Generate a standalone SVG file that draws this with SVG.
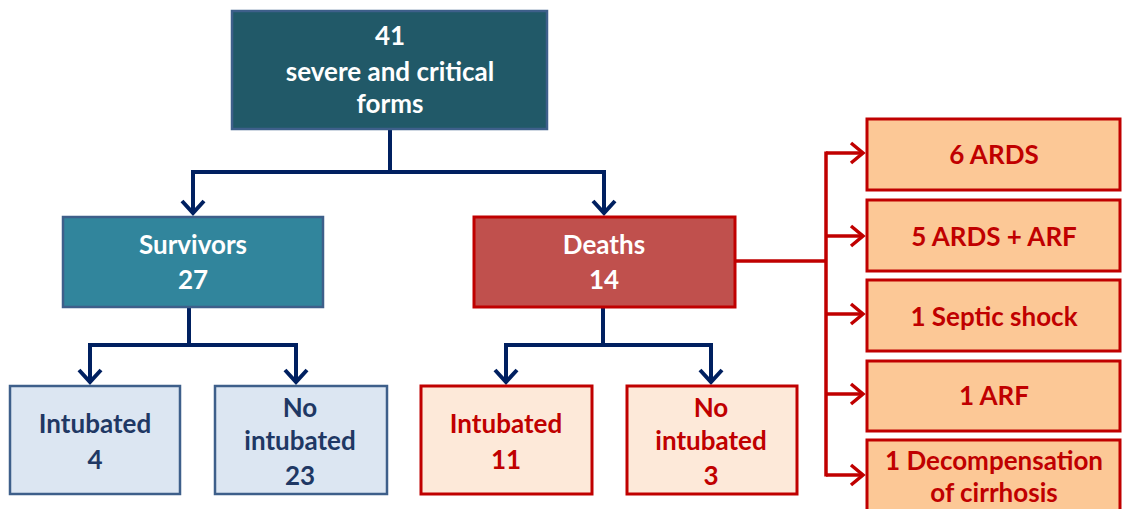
<svg xmlns="http://www.w3.org/2000/svg" width="1122" height="509" viewBox="0 0 1122 509">
<style>
text{font-family:Lato,"Open Sans","Liberation Sans",sans-serif;font-weight:bold;font-size:26px;text-anchor:middle}
.w{fill:#ffffff}
.n{fill:#1F3864}
.r{fill:#C00000}
.nav{fill:none;stroke:#002060;stroke-width:4}
.red{fill:none;stroke:#C00000;stroke-width:3.5}
.top{fill:#215968;stroke:#3E5F8A;stroke-width:2.5}
.surv{fill:#31859C;stroke:#3E5F8A;stroke-width:2.5}
.lb{fill:#DCE6F2;stroke:#3E5F8A;stroke-width:2.5}
.dth{fill:#C0504D;stroke:#C00000;stroke-width:3}
.lr{fill:#FDE9D9;stroke:#C00000;stroke-width:3}
.or{fill:#FCC896;stroke:#C00000;stroke-width:3}
</style>
<defs>
<marker id="an" markerUnits="userSpaceOnUse" markerWidth="30" markerHeight="30" refX="14" refY="12" orient="auto" overflow="visible">
<path d="M2,1 L14,12 L2,23" fill="none" stroke="#002060" stroke-width="4"/>
</marker>
<marker id="ar" markerUnits="userSpaceOnUse" markerWidth="30" markerHeight="30" refX="14" refY="12" orient="auto" overflow="visible">
<path d="M2,2 L14,12 L2,22" fill="none" stroke="#C00000" stroke-width="3.5"/>
</marker>
</defs>
<g id="connectors">
<path class="nav" d="M390,129 V172 M191,172 H606"/>
<path class="nav" d="M193,172 V213" marker-end="url(#an)"/>
<path class="nav" d="M604,172 V213" marker-end="url(#an)"/>
<path class="nav" d="M189,307 V345 M88,345 H298"/>
<path class="nav" d="M90,345 V382" marker-end="url(#an)"/>
<path class="nav" d="M296,345 V382" marker-end="url(#an)"/>
<path class="nav" d="M603,307 V345 M504,345 H713"/>
<path class="nav" d="M506,345 V382" marker-end="url(#an)"/>
<path class="nav" d="M711,345 V382" marker-end="url(#an)"/>
<path class="red" d="M735,261 H826 M826,151.5 V476.5"/>
<path class="red" d="M826,153 H863" marker-end="url(#ar)"/>
<path class="red" d="M826,236 H863" marker-end="url(#ar)"/>
<path class="red" d="M826,314 H863" marker-end="url(#ar)"/>
<path class="red" d="M826,394 H863" marker-end="url(#ar)"/>
<path class="red" d="M826,475 H863" marker-end="url(#ar)"/>
</g>
<g id="n-total">
<rect class="top" x="232" y="11" width="315" height="118"/>
<text class="w" x="390" y="45">41</text>
<text class="w" x="390" y="81">severe and critical</text>
<text class="w" x="390" y="113">forms</text>
</g>
<g id="n-survivors">
<rect class="surv" x="63" y="217" width="260" height="90"/>
<text class="w" x="193" y="254">Survivors</text>
<text class="w" x="193" y="289">27</text>
</g>
<g id="n-deaths">
<rect class="dth" x="474" y="217" width="261" height="90"/>
<text class="w" x="604" y="254">Deaths</text>
<text class="w" x="604" y="289">14</text>
</g>
<g id="n-s-intubated">
<rect class="lb" x="10" y="386" width="170" height="108"/>
<text class="n" x="95" y="433">Intubated</text>
<text class="n" x="95" y="469">4</text>
</g>
<g id="n-s-nointubated">
<rect class="lb" x="215" y="386" width="172" height="108"/>
<text class="n" x="300" y="417">No</text>
<text class="n" x="300" y="450">intubated</text>
<text class="n" x="300" y="485">23</text>
</g>
<g id="n-d-intubated">
<rect class="lr" x="421" y="386" width="171" height="108"/>
<text class="r" x="506" y="433">Intubated</text>
<text class="r" x="506" y="469">11</text>
</g>
<g id="n-d-nointubated">
<rect class="lr" x="627" y="386" width="170" height="108"/>
<text class="r" x="711" y="417">No</text>
<text class="r" x="711" y="450">intubated</text>
<text class="r" x="711" y="485">3</text>
</g>
<g id="n-ards">
<rect class="or" x="867" y="119" width="253" height="71"/>
<text class="r" x="994" y="164">6 ARDS</text>
</g>
<g id="n-ards-arf">
<rect class="or" x="867" y="200" width="253" height="71"/>
<text class="r" x="994" y="246">5 ARDS + ARF</text>
</g>
<g id="n-septic">
<rect class="or" x="867" y="280" width="253" height="71"/>
<text class="r" x="994" y="326">1 Septic shock</text>
</g>
<g id="n-arf">
<rect class="or" x="867" y="361" width="253" height="70"/>
<text class="r" x="994" y="405">1 ARF</text>
</g>
<g id="n-cirrhosis">
<rect class="or" x="867" y="440" width="253" height="80"/>
<text class="r" x="994" y="470">1 Decompensation</text>
<text class="r" x="994" y="502">of cirrhosis</text>
</g>
</svg>
